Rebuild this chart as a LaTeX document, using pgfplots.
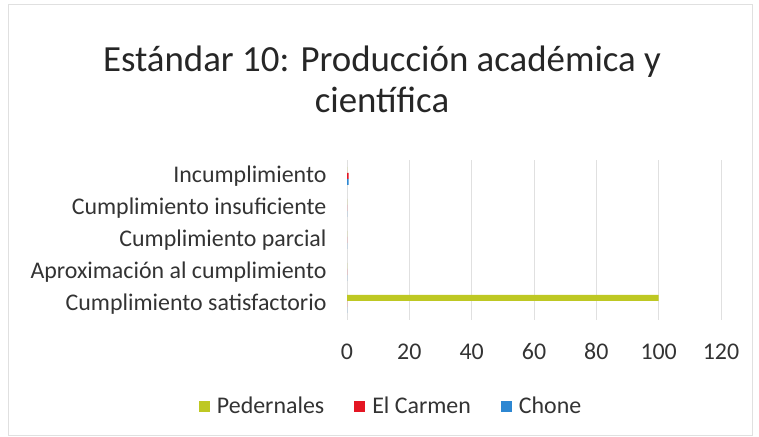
\documentclass[border=0pt]{standalone}
\usepackage{fontspec}
\setmainfont{Carlito}
\usepackage{pgfplots}
\pgfplotsset{compat=1.18}

\definecolor{pedernales}{RGB}{190,200,35}
\definecolor{elcarmen}{RGB}{228,22,35}
\definecolor{chone}{RGB}{45,135,210}

\begin{document}
\begin{tikzpicture}[x=1bp,y=1bp]
  % page frame (759 x 437)
  \path[use as bounding box] (0,0) rectangle (759,437);
  \draw[black!12] (8,2) rectangle (752,433);

  \node[font=\fontsize{37}{41}\selectfont, align=center, text=black!85]
    at (382,358) {Estándar 10: Producción académica y\\científica};

  \begin{axis}[
    at={(347bp,117bp)}, anchor=south west,
    scale only axis, width=374bp, height=160bp,
    xbar=0pt, bar width=6bp,
    xmin=0, xmax=120, xtick={0,20,...,120},
    ymin=-0.5, ymax=4.5, ytick={0,...,4},
    yticklabels={Cumplimiento satisfactorio, Aproximación al cumplimiento,
      Cumplimiento parcial, Cumplimiento insuficiente, Incumplimiento},
    axis line style={draw=none},
    major tick length=0pt,
    xmajorgrids, major grid style={black!12},
    tick label style={font=\fontsize{24}{26}\selectfont, text=black!80},
    /pgf/number format/assume math mode=true,
    xticklabel style={yshift=-20bp, text height=16bp, text depth=0bp},
    yticklabel style={xshift=-17bp},
    legend style={at={(0.118,-0.54)}, anchor=center, draw=none,
      font=\fontsize{24}{26}\selectfont, text=black!80,
      legend columns=3,
      /tikz/every odd column/.append style={column sep=5bp},
      /tikz/every even column/.append style={column sep=28bp}},
    legend image code/.code={\fill[#1] (0bp,-5.5bp) rectangle (11bp,5.5bp);},
  ]
    \addplot[fill=pedernales, draw=none, bar shift=6bp] coordinates {
      (100,0) (0,1) (0,2) (0,3) (0,4)
    };
    \addlegendentry{Pedernales}
    \addplot[fill=elcarmen, draw=none, bar shift=0bp] coordinates {
      (0,0) (0,1) (0,2) (0,3) (0.5,4)
    };
    \addlegendentry{El Carmen}
    \addplot[fill=chone, draw=none, bar shift=-6bp] coordinates {
      (0,0) (0,1) (0,2) (0,3) (0.5,4)
    };
    \addlegendentry{Chone}
  \end{axis}
\end{tikzpicture}
\end{document}
